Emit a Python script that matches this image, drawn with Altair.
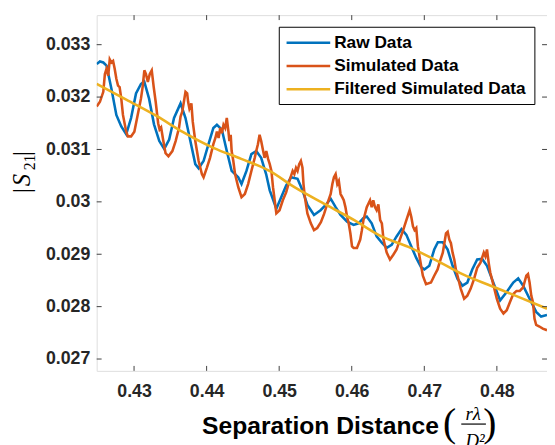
import altair as alt
import pandas as pd

# ---------------- data ----------------
series_names = ["Raw Data", "Simulated Data", "Filtered Simulated Data"]
series_colors = ["#0072BD", "#D95319", "#EDB120"]

raw_x = [0.42485,0.42530,0.42576,0.42621,0.42688,0.42756,0.42824,0.42892,0.42959,0.43027,
         0.43095,0.43140,0.43207,0.43275,0.43348,0.43416,0.43484,0.43551,0.43641,0.43709,
         0.43776,0.43844,0.43890,0.43958,0.44026,0.44093,0.44142,0.44210,0.44278,0.44345,
         0.44436,0.44481,0.44549,0.44617,0.44684,0.44752,0.44820,0.44870,0.44961,0.45028,
         0.45096,0.45164,0.45253,0.45321,0.45389,0.45480,0.45570,0.45642,0.45710,0.45778,
         0.45846,0.45936,0.46026,0.46094,0.46161,0.46207,0.46275,0.46343,0.46415,0.46482,
         0.46550,0.46618,0.46686,0.46753,0.46821,0.46889,0.46957,0.47001,0.47069,0.47137,
         0.47187,0.47255,0.47322,0.47390,0.47458,0.47526,0.47593,0.47661,0.47729,0.47797,
         0.47864,0.47932,0.48045,0.48136,0.48226,0.48294,0.48362,0.48451,0.48542,0.48610,
         0.48691]
raw_y = [0.03263,0.03268,0.03266,0.03260,0.03216,0.03166,0.03144,0.03129,0.03160,0.03207,
         0.03225,0.03230,0.03197,0.03148,0.03116,0.03101,0.03119,0.03160,0.03188,0.03160,
         0.03116,0.03072,0.03064,0.03078,0.03110,0.03141,0.03147,0.03138,0.03097,0.03059,
         0.03047,0.03034,0.03059,0.03091,0.03097,0.03084,0.03053,0.03022,0.02987,0.03009,
         0.03031,0.03047,0.03044,0.03022,0.02994,0.02975,0.02984,0.02994,0.03006,0.02990,
         0.02975,0.02962,0.02956,0.02959,0.02969,0.02972,0.02959,0.02934,0.02922,0.02912,
         0.02918,0.02934,0.02948,0.02937,0.02915,0.02893,0.02875,0.02871,0.02878,0.02909,
         0.02923,0.02923,0.02909,0.02878,0.02853,0.02840,0.02846,0.02871,0.02890,0.02891,
         0.02878,0.02853,0.02812,0.02828,0.02846,0.02854,0.02840,0.02815,0.02790,0.02781,
         0.02784]

sim_x = [0.42485,0.42530,0.42576,0.42598,0.42621,0.42644,0.42665,0.42688,0.42711,0.42733,
         0.42756,0.42779,0.42801,0.42824,0.42847,0.42892,0.42915,0.42959,0.43004,0.43050,
         0.43095,0.43118,0.43142,0.43163,0.43190,0.43217,0.43244,0.43271,0.43298,0.43332,
         0.43352,0.43373,0.43400,0.43434,0.43474,0.43528,0.43573,0.43619,0.43641,0.43664,
         0.43687,0.43709,0.43732,0.43745,0.43763,0.43790,0.43809,0.43844,0.43890,0.43935,
         0.43958,0.44003,0.44047,0.44093,0.44121,0.44142,0.44165,0.44188,0.44210,0.44233,
         0.44256,0.44278,0.44301,0.44314,0.44332,0.44345,0.44368,0.44392,0.44436,0.44481,
         0.44527,0.44572,0.44617,0.44663,0.44684,0.44707,0.44730,0.44752,0.44775,0.44798,
         0.44822,0.44847,0.44870,0.44893,0.44915,0.44938,0.44961,0.45005,0.45050,0.45096,
         0.45141,0.45186,0.45209,0.45232,0.45253,0.45276,0.45299,0.45321,0.45335,0.45354,
         0.45389,0.45436,0.45480,0.45524,0.45575,0.45619,0.45665,0.45710,0.45733,0.45755,
         0.45778,0.45801,0.45822,0.45846,0.45869,0.45890,0.45913,0.45936,0.45958,0.45981,
         0.46004,0.46026,0.46072,0.46117,0.46140,0.46161,0.46207,0.46252,0.46275,0.46297,
         0.46320,0.46343,0.46367,0.46392,0.46415,0.46438,0.46482,0.46527,0.46573,0.46618,
         0.46663,0.46709,0.46753,0.46798,0.46821,0.46844,0.46866,0.46889,0.46912,0.46934,
         0.46980,0.47024,0.47092,0.47137,0.47183,0.47210,0.47255,0.47299,0.47322,0.47345,
         0.47367,0.47390,0.47413,0.47435,0.47458,0.47503,0.47549,0.47593,0.47638,0.47684,
         0.47729,0.47774,0.47820,0.47842,0.47864,0.47887,0.47909,0.47955,0.48000,0.48045,
         0.48091,0.48136,0.48181,0.48226,0.48271,0.48316,0.48362,0.48406,0.48429,0.48451,
         0.48474,0.48497,0.48519,0.48542,0.48587,0.48633,0.48691]
sim_y = [0.03182,0.03191,0.03210,0.03244,0.03254,0.03241,0.03272,0.03266,0.03269,0.03254,
         0.03235,0.03222,0.03219,0.03197,0.03166,0.03134,0.03125,0.03125,0.03134,0.03166,
         0.03197,0.03219,0.03251,0.03244,0.03229,0.03244,0.03251,0.03219,0.03191,0.03150,
         0.03138,0.03142,0.03119,0.03093,0.03087,0.03097,0.03116,0.03141,0.03163,0.03172,
         0.03191,0.03210,0.03207,0.03191,0.03178,0.03188,0.03153,0.03116,0.03078,0.03053,
         0.03047,0.03065,0.03084,0.03110,0.03122,0.03134,0.03122,0.03141,0.03131,0.03147,
         0.03141,0.03160,0.03134,0.03116,0.03128,0.03097,0.03078,0.03053,0.03028,0.03009,
         0.03015,0.03034,0.03059,0.03084,0.03097,0.03110,0.03128,0.03116,0.03100,0.03084,
         0.03097,0.03082,0.03072,0.03059,0.03028,0.03003,0.02978,0.02984,0.03003,0.03018,
         0.03040,0.03059,0.03053,0.03065,0.03059,0.03072,0.03078,0.03065,0.03034,0.03009,
         0.02978,0.02959,0.02946,0.02950,0.02961,0.02977,0.02997,0.03015,0.03034,0.03047,
         0.03053,0.03034,0.03040,0.03015,0.03009,0.03003,0.02990,0.02971,0.02959,0.02940,
         0.02915,0.02912,0.02912,0.02928,0.02946,0.02965,0.02990,0.03003,0.02990,0.03003,
         0.02990,0.02984,0.02995,0.02965,0.02959,0.02928,0.02903,0.02890,0.02899,0.02909,
         0.02928,0.02946,0.02965,0.02984,0.02971,0.02953,0.02946,0.02950,0.02915,0.02896,
         0.02859,0.02843,0.02846,0.02859,0.02871,0.02884,0.02903,0.02940,0.02943,0.02928,
         0.02921,0.02903,0.02890,0.02871,0.02859,0.02834,0.02815,0.02821,0.02834,0.02852,
         0.02874,0.02884,0.02903,0.02896,0.02909,0.02884,0.02865,0.02840,0.02815,0.02796,
         0.02787,0.02793,0.02809,0.02824,0.02830,0.02830,0.02837,0.02859,0.02862,0.02846,
         0.02821,0.02809,0.02777,0.02765,0.02762,0.02758,0.02755]

filt_x = [0.42485,0.42892,0.43321,0.43664,0.44093,0.44477,0.44866,0.45222,0.45638,
          0.46035,0.46411,0.46780,0.47183,0.47526,0.47932,0.48271,0.48691]
filt_y = [0.03225,0.03195,0.03163,0.03134,0.03103,0.03082,0.03059,0.03027,0.02995,
          0.02965,0.02934,0.02914,0.02887,0.02862,0.02839,0.02820,0.02796]

x_ticks = [0.43, 0.44, 0.45, 0.46, 0.47, 0.48]
y_ticks = [0.027, 0.028, 0.029, 0.030, 0.031, 0.032, 0.033]
x_domain = [0.42485, 0.48691]
y_domain = [0.026774, 0.033564]

# ---------------- layout / style ----------------
W, H = 457, 361
AX = "#262626"
BOX = "#404040"
TL = 5  # inward tick length

df = pd.concat([
    pd.DataFrame({"x": raw_x, "y": raw_y, "series": series_names[0]}),
    pd.DataFrame({"x": sim_x, "y": sim_y, "series": series_names[1]}),
    pd.DataFrame({"x": filt_x, "y": filt_y, "series": series_names[2]}),
], ignore_index=True)

xscale = alt.Scale(domain=x_domain, nice=False, zero=False)
yscale = alt.Scale(domain=y_domain, nice=False, zero=False)
cscale = alt.Scale(domain=series_names, range=series_colors)

xaxis = alt.Axis(values=x_ticks, format=".2f", title=None, domain=False, ticks=False,
                 grid=False, labelFont="Liberation Sans", labelFontSize=18,
                 labelFontWeight="bold", labelColor=AX, labelPadding=12)
yaxis = alt.Axis(values=y_ticks, format=".3~f", title=None, domain=False, ticks=False,
                 grid=False, labelFont="Liberation Sans", labelFontSize=18,
                 labelFontWeight="bold", labelColor=AX, labelPadding=7)


def series_line(name, interp="linear"):
    return (alt.Chart(df)
            .transform_filter(alt.datum.series == name)
            .mark_line(strokeWidth=2.6, clip=True, interpolate=interp)
            .encode(x=alt.X("x:Q", scale=xscale, axis=xaxis),
                    y=alt.Y("y:Q", scale=yscale, axis=yaxis),
                    color=alt.Color("series:N", scale=cscale, legend=None),
                    order=alt.Order("x:Q")))


lines = [series_line(series_names[0]),
         series_line(series_names[1]),
         series_line(series_names[2], "monotone")]

# inward ticks (box style)
xt = pd.DataFrame({"t": x_ticks})
yt = pd.DataFrame({"t": y_ticks})
tick_x_bottom = alt.Chart(xt).mark_rule(color=BOX, strokeWidth=1).encode(
    x=alt.X("t:Q", scale=xscale, axis=xaxis), y=alt.value(H), y2=alt.value(H - TL))
tick_x_top = alt.Chart(xt).mark_rule(color=BOX, strokeWidth=1).encode(
    x=alt.X("t:Q", scale=xscale, axis=xaxis), y=alt.value(0), y2=alt.value(TL))
tick_y_left = alt.Chart(yt).mark_rule(color=BOX, strokeWidth=1).encode(
    y=alt.Y("t:Q", scale=yscale, axis=yaxis), x=alt.value(0), x2=alt.value(TL))
tick_y_right = alt.Chart(yt).mark_rule(color=BOX, strokeWidth=1).encode(
    y=alt.Y("t:Q", scale=yscale, axis=yaxis), x=alt.value(W - TL), x2=alt.value(W))

# legend (drawn by hand, colours through the shared colour scale)
one = pd.DataFrame({"a": [0]})
leg_df = pd.DataFrame({"series": series_names, "i": [0, 1, 2]})
leg_box = alt.Chart(one).mark_rect(fill="white", stroke="black", strokeWidth=1).encode(
    x=alt.value(185.3), x2=alt.value(444.7), y=alt.value(12.3), y2=alt.value(90.7))
leg_sym = (alt.Chart(leg_df)
           .transform_calculate(ly="28 + 23.65 * datum.i")
           .mark_rule(strokeWidth=2.6)
           .encode(x=alt.value(192.7), x2=alt.value(237),
                   y=alt.Y("ly:Q", scale=None),
                   color=alt.Color("series:N", scale=cscale, legend=None)))
leg_txt = (alt.Chart(leg_df)
           .transform_calculate(ly="28 + 23.65 * datum.i")
           .mark_text(align="left", baseline="middle", font="Liberation Sans",
                      fontSize=17.5, fontWeight="bold", color="black")
           .encode(x=alt.value(241), y=alt.Y("ly:Q", scale=None), text="series:N"))


def label(txt, x, y, **kw):
    return alt.Chart(one).mark_text(text=txt, **kw).encode(x=alt.value(x), y=alt.value(y))


serif = "Liberation Serif"
# y title |S21|
ytitle = [
    label("|", -67.5, 178, angle=270, align="center", baseline="alphabetic",
          font=serif, fontSize=25, color="black"),
    label("S", -67.5, 167.5, angle=270, align="center", baseline="alphabetic",
          font=serif, fontSize=25, fontStyle="italic", color="black"),
    label("21", -63, 149.5, angle=270, align="center", baseline="alphabetic",
          font=serif, fontSize=16, color="black"),
    label("|", -67.5, 140.5, angle=270, align="center", baseline="alphabetic",
          font=serif, fontSize=25, color="black"),
]
# x title
xtitle = [
    label("Separation Distance", 107, 425, align="left", baseline="alphabetic",
          font="Liberation Sans", fontSize=25, fontWeight="bold", color="black"),
    label("(", 358, 427, align="center", baseline="alphabetic", font=serif,
          fontSize=40, color="black"),
    label(")", 399, 427, align="center", baseline="alphabetic", font=serif,
          fontSize=40, color="black"),
    label("rλ", 382, 411, align="center", baseline="alphabetic", font=serif,
          fontSize=19, fontStyle="italic", color="black"),
    label("D²", 384, 438, align="center", baseline="alphabetic", font=serif,
          fontSize=19, fontStyle="italic", color="black"),
    alt.Chart(one).mark_rule(color="black", strokeWidth=1.2).encode(
        x=alt.value(370), x2=alt.value(395), y=alt.value(415)),
]

chart = (alt.layer(*lines, tick_x_bottom, tick_x_top, tick_y_left, tick_y_right,
                   leg_box, leg_sym, leg_txt, *ytitle, *xtitle)
         .properties(width=W, height=H,
                     autosize=alt.AutoSizeParams(type="none"),
                     padding={"left": 90, "top": 4, "right": 0, "bottom": 72})
         .configure_view(stroke=BOX, strokeWidth=1)
         .configure(background="white"))

chart.save("out.html", embed_options={"renderer": "svg", "actions": False})
